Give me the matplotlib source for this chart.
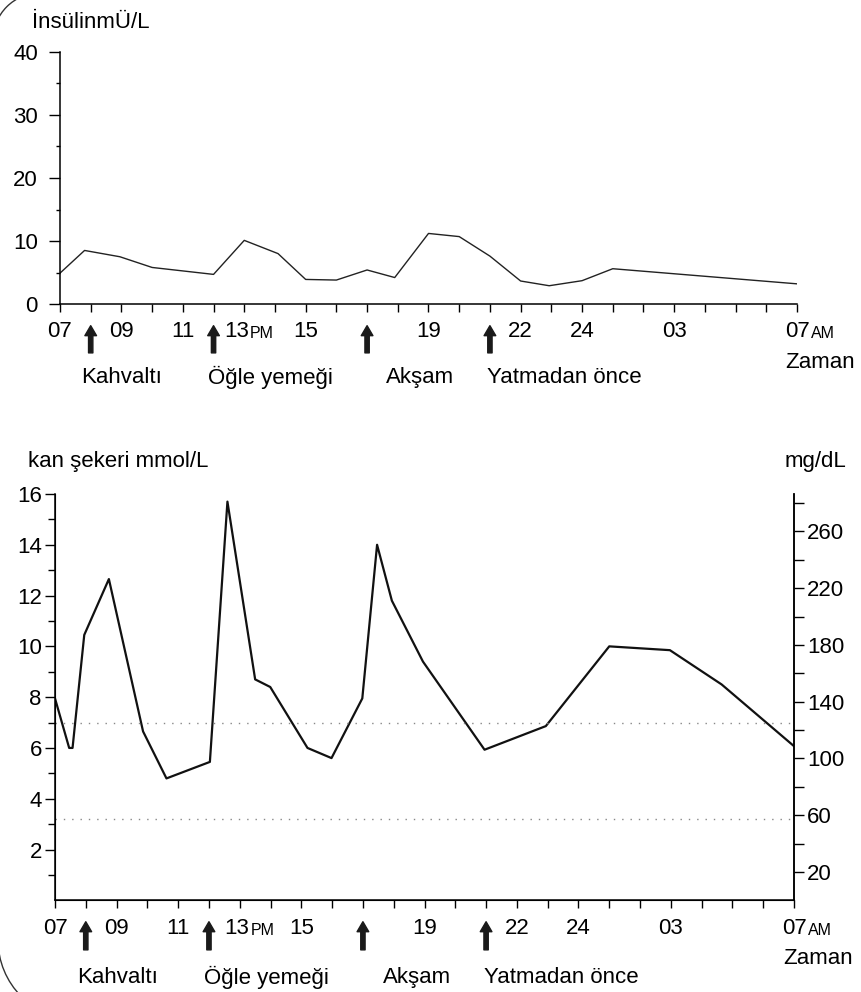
import matplotlib.pyplot as plt
import numpy as np
from matplotlib.patches import Arc
from matplotlib.transforms import ScaledTranslation

plt.rcParams['font.family'] = ['Liberation Sans', 'DejaVu Sans']
FS = 16
plt.rcParams['font.size'] = FS

W, H = 861, 992

# hours on the x axis (07 -> 31 = 07 next morning)
tick_hours = [7, 9, 11, 13, 15, 19, 22, 24, 27, 31]
tick_labels = ['07', '09', '11', '13', '15', '19', '22', '24', '03', '07']

meal_hours = [8, 12, 17, 21]
meal_labels = ['Kahvaltı', 'Öğle yemeği', 'Akşam', 'Yatmadan önce']

# insulin mU/L
ins_t = [7, 7.8, 8.95, 10, 12, 13, 14.1, 15, 16, 17, 17.9, 19, 20, 21, 22, 22.93, 24, 25, 31]
ins_v = [4.9, 8.5, 7.5, 5.8, 4.7, 10.1, 8.0, 3.9, 3.8, 5.4, 4.2, 11.2, 10.7, 7.6, 3.65, 2.9, 3.7, 5.6, 3.2]

# blood glucose mmol/L
glu_t = [7, 7.46, 7.57, 7.95, 8.75, 9.86, 10.62, 12.03, 12.6, 13.5, 13.99, 15.2, 15.98,
         16.98, 17.46, 17.94, 18.95, 20.95, 22.94, 25.0, 26.97, 28.65, 31]
glu_v = [7.95, 6.0, 6.0, 10.45, 12.65, 6.65, 4.8, 5.45, 15.7, 8.7, 8.4, 6.0, 5.6,
         7.95, 14.0, 11.8, 9.4, 5.93, 6.86, 10.0, 9.85, 8.5, 6.07]
ref_lines = [7.0, 3.2]
mg_factor = 17.9


def px(x, y):
    return x / W, 1 - y / H


def setup_x(ax, pad, shift13):
    ax.set_xlim(7, 31)
    ax.set_xticks(np.arange(7, 32))
    labs = ['' for h in range(7, 32)]
    for h, l in zip(tick_hours, tick_labels):
        labs[h - 7] = l
    ax.set_xticklabels(labs)
    ax.tick_params(axis='x', length=6, width=1, pad=pad, labelsize=FS)
    tl = ax.get_xticklabels()
    # "13" sits a bit left so the small "PM" fits after it
    t13 = tl[13 - 7]
    t13.set_transform(t13.get_transform() + ScaledTranslation(shift13 / 100, 0, fig.dpi_scale_trans))
    for t, s in [(t13, 'PM'), (tl[-1], 'AM')]:
        ax.annotate(s, xy=(1, 0), xycoords=t, xytext=(1, 0.212 * FS), textcoords='offset points',
                    fontsize=11.5, ha='left', va='baseline', annotation_clip=False)


def arrows(ax, tip, tail):
    for h in meal_hours:
        ax.annotate('', xy=(h, tip), xycoords=('data', 'axes fraction'),
                    xytext=(h, tail), textcoords=('data', 'axes fraction'),
                    arrowprops=dict(arrowstyle='simple,head_width=0.7,head_length=0.6,tail_width=0.26',
                                    mutation_scale=12, color='#1a1a1a', shrinkA=0, shrinkB=0),
                    annotation_clip=False)


fig = plt.figure(figsize=(W / 100, H / 100), dpi=100)

# ---- top: insulin
l, b = px(60, 304)
ax1 = fig.add_axes([l, b, 737 / W, 252 / H])
ax1.plot(ins_t, ins_v, color='#222222', lw=1.0)
ax1.set_ylim(0, 40)
ax1.set_yticks([0, 10, 20, 30, 40])
ax1.set_yticks([5, 15, 25, 35], minor=True)
ax1.tick_params(axis='y', which='major', length=8, width=1, pad=8)
ax1.tick_params(axis='y', which='minor', length=3, width=1)
setup_x(ax1, 6.5, -8)
for s in ['top', 'right']:
    ax1.spines[s].set_visible(False)
for s in ['left', 'bottom']:
    ax1.spines[s].set_linewidth(1.1)
arrows(ax1, -0.086, -0.194)
for h, lab, dx in zip(meal_hours, meal_labels, [1.0, 1.85, 1.72, 2.42]):
    ax1.text(h + dx, -0.29, lab, transform=ax1.get_xaxis_transform(), ha='center', va='center')

fig.text(*px(32, 22), 'İnsülinmÜ/L', ha='left', va='center')
fig.text(*px(785, 362), 'Zaman', ha='left', va='center')

# ---- bottom: glucose
l, b = px(55, 900.3)
ax2 = fig.add_axes([l, b, 739 / W, 406.3 / H])
ax2.plot(glu_t, glu_v, color='#111111', lw=1.6)
for v in ref_lines:
    ax2.axhline(v, color='#888888', lw=1.0, linestyle=(0, (1, 5)))
ax2.set_ylim(0, 16)
ax2.set_yticks([2, 4, 6, 8, 10, 12, 14, 16])
ax2.set_yticks(np.arange(1, 16, 2), minor=True)
ax2.tick_params(axis='y', which='major', length=7, width=1, pad=2.5)
ax2.tick_params(axis='y', which='minor', length=5, width=1)
setup_x(ax2, 7, -3)
ax2.spines['top'].set_visible(False)
for s in ['left', 'bottom', 'right']:
    ax2.spines[s].set_linewidth(1.1)

ax3 = ax2.twinx()
ax3.set_ylim(0, 16 * mg_factor)
ax3.set_yticks(np.arange(20, 280, 40))
ax3.set_yticks(np.arange(40, 300, 40), minor=True)
ax3.tick_params(axis='y', which='major', length=7, width=1, pad=2.5)
ax3.tick_params(axis='y', which='minor', length=7, width=1)
ax3.spines['top'].set_visible(False)
ax3.spines['right'].set_linewidth(1.1)

arrows(ax2, -0.0527, -0.122)
for h, lab, dx in zip(meal_hours, meal_labels, [1.03, 1.87, 1.75, 2.45]):
    ax2.text(h + dx, -0.189, lab, transform=ax2.get_xaxis_transform(), ha='center', va='center')

fig.text(*px(28, 462), 'kan şekeri mmol/L', ha='left', va='center')
fig.text(*px(846, 462), 'mg/dL', ha='right', va='center')
fig.text(*px(783, 959), 'Zaman', ha='left', va='center')

# page frame corners
bg = fig.add_axes([0, 0, 1, 1], zorder=-1)
bg.set_xlim(0, W)
bg.set_ylim(H, 0)
bg.axis('off')
bg.add_patch(Arc((40, 40), 94, 94, theta1=180, theta2=270, color='#333333', lw=1))
bg.add_patch(Arc((78, 940), 160, 160, theta1=90, theta2=180, color='#333333', lw=1))

fig.savefig('out.png', dpi=100)
